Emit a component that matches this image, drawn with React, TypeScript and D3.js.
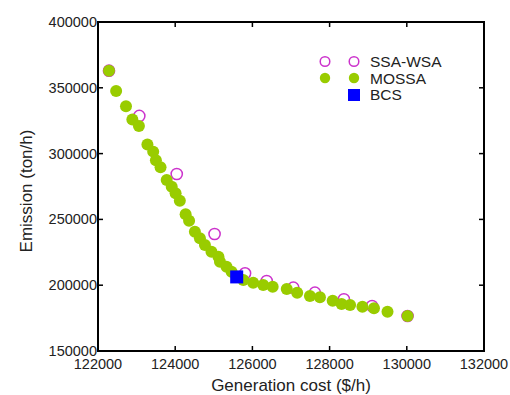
import React from "react";
import * as d3 from "d3";

const mossaCost = [122285, 122470, 122725, 122890, 123060, 123280, 123430, 123500, 123620, 123780, 123910, 124010, 124120, 124270, 124360, 124510, 124640, 124770, 124940, 125120, 125160, 125330, 125460, 125590, 125765, 126020, 126280, 126525, 126890, 127160, 127490, 127750, 128080, 128310, 128530, 128850, 129150, 129500, 130020];
const mossaEmission = [363000, 347600, 336000, 326000, 321000, 307000, 301500, 295000, 289600, 280000, 274800, 269800, 264200, 254000, 249000, 240700, 235600, 230500, 225500, 221700, 217900, 214000, 210300, 206500, 204000, 201900, 200200, 198900, 197100, 194300, 191800, 190800, 188200, 185700, 185000, 183700, 182400, 179900, 176600];
const ssaCost = [122285, 123070, 124040, 125020, 125810, 126370, 127060, 127620, 128370, 129100, 130020];
const ssaEmission = [363000, 328600, 284500, 238900, 209000, 203200, 198100, 194300, 189300, 184200, 176600];
const bcsCost = [125593];
const bcsEmission = [206300];

const xTicks = [122000, 124000, 126000, 128000, 130000, 132000];
const yTicks = [150000, 200000, 250000, 300000, 350000, 400000];
const legendLabels = ["SSA-WSA", "MOSSA", "BCS"];

const GREEN = "#99cc00";
const MAGENTA = "#cc33cc";
const BLUE = "#0000ff";

export default function App() {
  const W = 510, H = 395;
  const L = 98, R = 484, T = 22, B = 351;
  const x = d3.scaleLinear().domain([122000, 132000]).range([L, R]);
  const y = d3.scaleLinear().domain([150000, 400000]).range([B, T]);
  const font = "Liberation Sans, Arial, sans-serif";
  const tk = 5;

  return (
    <svg width={W} height={H} style={{ position: "absolute", left: 0, top: 0, background: "#fff" }}>
      {ssaCost.map((c, i) => (
        <circle key={"s" + i} cx={x(c)} cy={y(ssaEmission[i])} r={5.6} fill="none" stroke={MAGENTA} strokeWidth={1.5} />
      ))}
      {mossaCost.map((c, i) => (
        <circle key={"m" + i} cx={x(c)} cy={y(mossaEmission[i])} r={6} fill={GREEN} />
      ))}
      {bcsCost.map((c, i) => (
        <rect key={"b" + i} x={x(c) - 6.5} y={y(bcsEmission[i]) - 6.5} width={13} height={13} fill={BLUE} />
      ))}

      <rect x={L} y={T} width={R - L} height={B - T} fill="none" stroke="#000" strokeWidth={2} />
      {xTicks.map((t) => (
        <g key={"xt" + t}>
          <line x1={x(t)} x2={x(t)} y1={B} y2={B - tk} stroke="#000" strokeWidth={1.5} />
          <line x1={x(t)} x2={x(t)} y1={T} y2={T + tk} stroke="#000" strokeWidth={1.5} />
          <text x={x(t)} y={369} textAnchor="middle" fontFamily={font} fontSize={14.5} fill="#222">{t}</text>
        </g>
      ))}
      {yTicks.map((t) => (
        <g key={"yt" + t}>
          <line x1={L} x2={L + tk} y1={y(t)} y2={y(t)} stroke="#000" strokeWidth={1.5} />
          <line x1={R} x2={R - tk} y1={y(t)} y2={y(t)} stroke="#000" strokeWidth={1.5} />
          <text x={L - 1} y={y(t) + 5} textAnchor="end" fontFamily={font} fontSize={14.5} fill="#222">{t}</text>
        </g>
      ))}

      <text x={291} y={391} textAnchor="middle" fontFamily={font} fontSize={17} fill="#222">Generation cost ($/h)</text>
      <text transform={`translate(32,191) rotate(-90)`} textAnchor="middle" fontFamily={font} fontSize={17} fill="#222">Emission (ton/h)</text>

      <g>
        <circle cx={325} cy={61.5} r={4.8} fill="none" stroke={MAGENTA} strokeWidth={1.5} />
        <circle cx={354} cy={61.5} r={4.8} fill="none" stroke={MAGENTA} strokeWidth={1.5} />
        <circle cx={325} cy={78} r={5.2} fill={GREEN} />
        <circle cx={354} cy={78} r={5.2} fill={GREEN} />
        <rect x={348} y={89} width={12} height={12} fill={BLUE} />
        {legendLabels.map((l, i) => (
          <text key={l} x={370} y={67 + i * 16.5} fontFamily={font} fontSize={15.5} fill="#222">{l}</text>
        ))}
      </g>
    </svg>
  );
}
